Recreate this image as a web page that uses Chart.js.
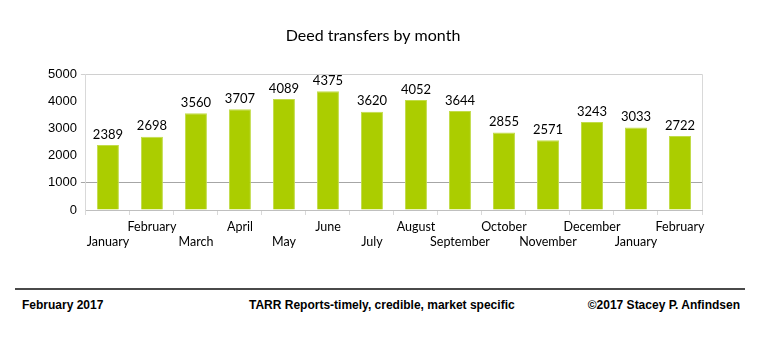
<!DOCTYPE html>
<html>
<head>
<meta charset="utf-8">
<script src="https://cdn.jsdelivr.net/npm/chart.js@4/dist/chart.umd.min.js"></script>
<style>
  body { margin: 0; background: #fff; }
  #wrap { position: relative; width: 757px; height: 340px; overflow: hidden; }
  #chartBox { position: absolute; left: 0; top: 0; width: 757px; height: 270px; }
  .rule { position: absolute; left: 15px; top: 288px; width: 730px; height: 2px; background: #4a4a4a; }
  .foot { position: absolute; top: 298px; font: bold 12px "Liberation Sans", Arial, sans-serif; color: #000; white-space: nowrap; }
</style>
</head>
<body>
<div id="wrap">
  <div id="chartBox"><canvas id="myChart"></canvas></div>
  <div class="rule"></div>
  <div class="foot" style="left:22px">February 2017</div>
  <div class="foot" style="left:249px">TARR Reports-timely, credible, market specific</div>
  <div class="foot" style="right:17px">©2017 Stacey P. Anfindsen</div>
</div>
<script>
// months shown on the x axis (Jan 2016 .. Feb 2017)
const meses = ['January', 'February', 'March', 'April', 'May', 'June', 'July',
               'August', 'September', 'October', 'November', 'December', 'January', 'February'];
const transferencias = [2389, 2698, 3560, 3707, 4089, 4375, 3620, 4052, 3644, 2855, 2571, 3243, 3033, 2722];
const yTicks = [0, 1000, 2000, 3000, 4000, 5000];

// staggered labels: even index on lower row, odd index on upper row
const label = meses.map(function(m, i) { return i % 2 === 0 ? ['', m] : [m]; });

const rotulos = {
  id: 'rotulos',
  afterDatasetsDraw: function(chart) {
    const ctx = chart.ctx;
    const meta = chart.getDatasetMeta(0);
    ctx.save();
    ctx.font = '13px Lato, sans-serif';
    ctx.fillStyle = '#000';
    ctx.textAlign = 'center';
    ctx.textBaseline = 'bottom';
    meta.data.forEach(function(bar, i) {
      ctx.fillText(transferencias[i], bar.x, bar.y - 4);
    });
    // right border of plot area
    const a = chart.chartArea;
    ctx.strokeStyle = '#d9d9d9';
    ctx.lineWidth = 1;
    ctx.beginPath();
    ctx.moveTo(Math.round(a.right) + 0.5, a.top);
    ctx.lineTo(Math.round(a.right) + 0.5, a.bottom);
    ctx.stroke();
    ctx.restore();
  }
};

const ctx = document.getElementById('myChart');
new Chart(ctx, {
  type: 'bar',
  data: {
    labels: label,
    datasets: [{
      label: 'Deed transfers',
      data: transferencias,
      backgroundColor: '#abcd00',
      borderColor: '#c2dc4a',
      borderWidth: 1,
      barPercentage: 0.5,
      categoryPercentage: 1
    }]
  },
  options: {
    responsive: true,
    maintainAspectRatio: false,
    animation: false,
    layout: { padding: { left: 44, right: 55, top: 0, bottom: 17 } },
    plugins: {
      legend: { display: false },
      tooltip: { enabled: false },
      title: {
        display: true,
        text: 'Deed transfers by month',
        color: '#000',
        font: { family: 'Lato', size: 16, weight: 'normal' },
        padding: { top: 26, bottom: 29 }
      }
    },
    scales: {
      x: {
        grid: { offset: true, drawOnChartArea: false, drawTicks: true, tickLength: 5, color: '#d9d9d9' },
        border: { color: '#bfbfbf' },
        ticks: {
          autoSkip: false, maxRotation: 0, padding: 4,
          color: '#000',
          font: { family: 'Lato', size: 12.5, lineHeight: 1.2 }
        }
      },
      y: {
        min: 0, max: 5000,
        afterBuildTicks: function(axis) { axis.ticks = yTicks.map(function(v) { return { value: v }; }); },
        grid: {
          tickLength: 5,
          color: function(c) {
            if (c.tick.value === 1000) return '#a6a6a6';
            if (c.tick.value === 5000) return '#d0d0d0';
            return 'rgba(0,0,0,0)';
          }
        },
        border: { color: '#d9d9d9' },
        ticks: {
          padding: 4,
          color: '#000',
          font: { family: 'Liberation Sans', size: 13 },
          callback: function(v) { return String(v); }
        }
      }
    }
  },
  plugins: [rotulos]
});
</script>
</body>
</html>
